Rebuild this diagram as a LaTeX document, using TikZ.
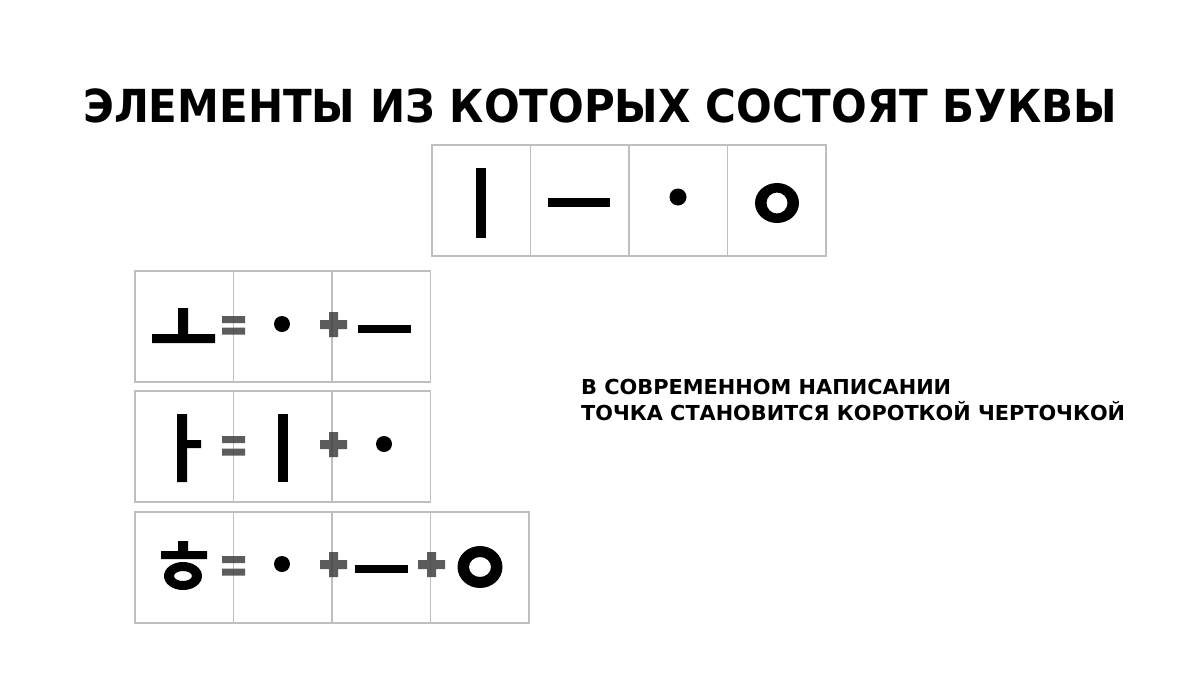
\documentclass[tikz,border=0pt]{standalone}
\usepackage{fontspec}
\usepackage{graphicx}
\setmainfont{DejaVu Sans}
\tikzset{
  cell/.style={draw=black!25, line width=1.8pt, minimum width=98.5pt, minimum height=111pt, inner sep=0pt, fill=none},
  glyph/.style={fill=black},
  oper/.style={fill=black!75, fill opacity=0.85},
  txt/.style={inner sep=0pt, anchor=base west, text=black}
}
\begin{document}
\begin{tikzpicture}[x=1pt,y=-1pt]
\useasboundingbox (0,0) rectangle (1200,675);
\fill[white] (0,0) rectangle (1200,675);

% title
\node[txt] (title) at (83,122) {\resizebox{1034pt}{\height}{\fontsize{45.5pt}{50pt}\selectfont\bfseries ЭЛЕМЕНТЫ ИЗ КОТОРЫХ СОСТОЯТ БУКВЫ}};

% side note
\node[txt] (note1) at (581,394) {\resizebox{370pt}{\height}{\fontsize{20.6pt}{24pt}\selectfont\bfseries В СОВРЕМЕННОМ НАПИСАНИИ}};
\node[txt] (note2) at (581,420) {\resizebox{544pt}{\height}{\fontsize{20.6pt}{24pt}\selectfont\bfseries ТОЧКА СТАНОВИТСЯ КОРОТКОЙ ЧЕРТОЧКОЙ}};

% top row cells
\node[cell] (t1) at (481.25,200.5) {};
\node[cell] (t2) at (579.75,200.5) {};
\node[cell] (t3) at (678.25,200.5) {};
\node[cell] (t4) at (776.75,200.5) {};

% rows of cells
\node[cell] (a1) at (184.25,326.5) {};
\node[cell] (a2) at (282.75,326.5) {};
\node[cell] (a3) at (381.25,326.5) {};
\node[cell] (b1) at (184.25,446.5) {};
\node[cell] (b2) at (282.75,446.5) {};
\node[cell] (b3) at (381.25,446.5) {};
\node[cell] (c1) at (184.25,567.5) {};
\node[cell] (c2) at (282.75,567.5) {};
\node[cell] (c3) at (381.25,567.5) {};
\node[cell] (c4) at (479.75,567.5) {};

% top row glyphs
\fill[glyph] (476,168) rectangle (486,238);
\fill[glyph] (548,197.5) rectangle (610,206.5);
\fill[glyph] (678,197) circle[radius=8.5];
\fill[glyph,even odd rule] (777,203) ellipse[x radius=22,y radius=20] (777,203) ellipse[x radius=10.5,y radius=10.5];

% row 1
\fill[glyph] (152,334) rectangle (215,343) (178,308) rectangle (188,334.5);
\fill[oper] (222,316) rectangle (245,323) (222,327.5) rectangle (245,334.5);
\fill[glyph] (282,324) circle[radius=8];
\fill[oper] (320,320) -- (329,320) -- (329,312) -- (338,312) -- (338,320) -- (347,320) -- (347,329) -- (338,329) -- (338,337) -- (329,337) -- (329,329) -- (320,329) -- cycle;
\fill[glyph] (358,324.5) rectangle (411,332.5);

% row 2
\fill[glyph] (177,414) rectangle (187,482) (186.5,440) rectangle (201,448);
\fill[oper] (222,436) rectangle (245,443) (222,448.5) rectangle (245,455.5);
\fill[glyph] (278,414) rectangle (288,482);
\fill[oper] (320,440) -- (329,440) -- (329,432) -- (338,432) -- (338,440) -- (347,440) -- (347,449) -- (338,449) -- (338,457) -- (329,457) -- (329,449) -- (320,449) -- cycle;
\fill[glyph] (384,444) circle[radius=8];

% row 3
\fill[glyph] (178,541) rectangle (188,551.5) (161,551) rectangle (207,559);
\fill[glyph,even odd rule] (183,576) ellipse[x radius=19,y radius=14] (183,576) ellipse[x radius=9,y radius=5];
\fill[oper] (222,556) rectangle (245,563) (222,568.5) rectangle (245,575.5);
\fill[glyph] (282,564) circle[radius=8];
\fill[oper] (320,560) -- (329,560) -- (329,552) -- (338,552) -- (338,560) -- (347,560) -- (347,569) -- (338,569) -- (338,577) -- (329,577) -- (329,569) -- (320,569) -- cycle;
\fill[glyph] (355,564.5) rectangle (408,572.5);
\fill[oper] (418,560) -- (427,560) -- (427,552) -- (436,552) -- (436,560) -- (445,560) -- (445,569) -- (436,569) -- (436,577) -- (427,577) -- (427,569) -- (418,569) -- cycle;
\fill[glyph,even odd rule] (480,567) ellipse[x radius=22.5,y radius=21] (480,567) ellipse[x radius=11,y radius=10];
\end{tikzpicture}
\end{document}
